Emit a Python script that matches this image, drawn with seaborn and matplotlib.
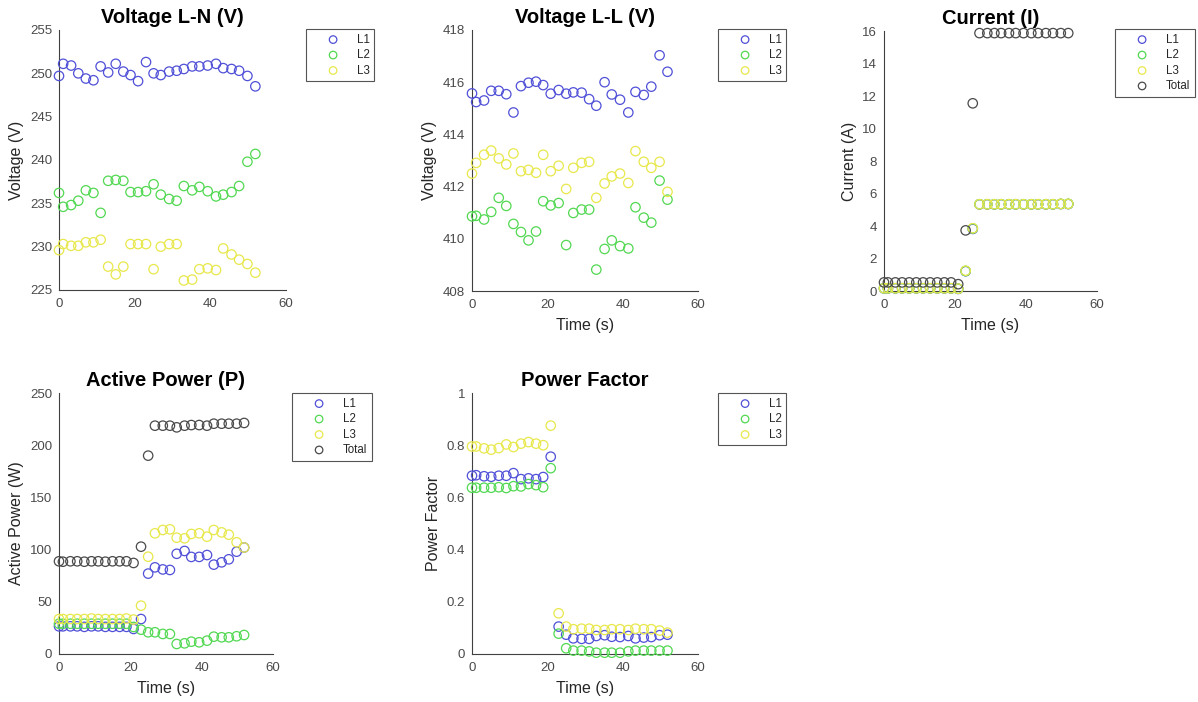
import pandas as pd
import seaborn as sns
import matplotlib.pyplot as plt

# ==================== Data ====================

TIME = [0, 1.1, 3.2, 5.1, 7.1, 9.1, 11.0, 13.0, 15.0, 17.0, 18.9, 20.9, 23.0, 25.0,
        26.9, 29.1, 31.1, 33.0, 35.2, 37.1, 39.3, 41.5, 43.4, 45.6, 47.6, 49.8, 51.9]

# Voltage L-N (V)
VLN_L1 = [249.7, 251.1, 250.9, 250.0, 249.4, 249.2, 250.8, 250.1, 251.1, 250.2, 249.8, 249.1, 251.3, 250.0,
          249.8, 250.2, 250.3, 250.5, 250.8, 250.8, 250.9, 251.1, 250.6, 250.5, 250.3, 249.7, 248.5]
VLN_L2 = [236.2, 234.6, 234.8, 235.3, 236.5, 236.2, 233.9, 237.6, 237.7, 237.6, 236.3, 236.3, 236.4, 237.2,
          236.0, 235.5, 235.3, 237.0, 236.5, 236.9, 236.4, 235.8, 236.0, 236.3, 237.0, 239.8, 240.7]
VLN_L3 = [229.6, 230.3, 230.1, 230.1, 230.5, 230.5, 230.8, 227.7, 226.8, 227.7, 230.3, 230.3, 230.3, 227.4,
          230.0, 230.3, 230.3, 226.1, 226.2, 227.4, 227.5, 227.3, 229.8, 229.1, 228.5, 228.0, 227.0]

# Voltage L-L (V)
VLL_L1 = [415.57, 415.24, 415.30, 415.67, 415.67, 415.54, 414.84, 415.85, 415.98, 416.02, 415.89, 415.56, 415.70,
          415.56, 415.61, 415.60, 415.35, 415.10, 416.00, 415.53, 415.33, 414.84, 415.63, 415.51, 415.83, 417.03, 416.40]
VLL_L2 = [410.86, 410.88, 410.74, 411.03, 411.57, 411.26, 410.57, 410.26, 409.94, 410.28, 411.44, 411.28, 411.37,
          409.76, 410.99, 411.12, 411.12, 408.82, 409.61, 409.94, 409.72, 409.63, 411.21, 410.81, 410.62, 412.23, 411.50]
VLL_L3 = [412.50, 412.91, 413.22, 413.38, 413.08, 412.85, 413.27, 412.59, 412.64, 412.53, 413.22, 412.59, 412.80,
          411.91, 412.72, 412.91, 412.95, 411.57, 412.12, 412.39, 412.50, 412.14, 413.36, 412.95, 412.72, 412.95, 411.80]

# Current (A)
I_L1 = [0.16, 0.16, 0.16, 0.16, 0.16, 0.16, 0.16, 0.16, 0.16, 0.16, 0.16, 0.13, 1.22, 3.82,
        5.33, 5.33, 5.33, 5.33, 5.33, 5.33, 5.33, 5.33, 5.33, 5.33, 5.33, 5.35, 5.35]
I_L2 = [0.17, 0.17, 0.17, 0.17, 0.17, 0.17, 0.17, 0.17, 0.17, 0.17, 0.17, 0.14, 1.23, 3.85,
        5.34, 5.34, 5.34, 5.34, 5.34, 5.34, 5.34, 5.34, 5.34, 5.34, 5.34, 5.36, 5.36]
I_L3 = [0.17, 0.17, 0.17, 0.17, 0.17, 0.17, 0.17, 0.17, 0.17, 0.17, 0.17, 0.14, 1.25, 3.86,
        5.34, 5.34, 5.34, 5.34, 5.34, 5.34, 5.34, 5.34, 5.34, 5.34, 5.34, 5.36, 5.36]
I_TOT = [0.53, 0.53, 0.53, 0.53, 0.53, 0.53, 0.53, 0.53, 0.53, 0.53, 0.53, 0.42, 3.73, 11.55,
         15.87, 15.87, 15.87, 15.87, 15.87, 15.87, 15.87, 15.87, 15.87, 15.87, 15.87, 15.87, 15.87]

# Active Power (W)
P_L1 = [26.5, 26.5, 26.5, 26.5, 26.0, 26.5, 26.5, 26.0, 26.0, 26.0, 26.0, 24.0, 33.5, 77.0,
        83.0, 81.0, 80.5, 96.0, 98.7, 93.0, 93.0, 94.8, 85.6, 87.8, 90.7, 98.0, 102.0]
P_L2 = [29.0, 29.0, 29.0, 29.0, 29.0, 29.0, 29.0, 29.0, 29.0, 29.0, 29.0, 25.9, 23.3, 20.8,
        20.8, 19.2, 19.2, 9.6, 10.2, 11.8, 11.2, 12.8, 16.6, 16.0, 16.0, 17.0, 18.2]
P_L3 = [33.5, 33.5, 33.5, 33.5, 33.5, 34.0, 33.5, 33.5, 33.5, 33.5, 34.0, 33.0, 46.3, 93.2,
        115.6, 118.8, 119.4, 111.4, 110.8, 115.0, 115.6, 112.4, 118.8, 116.5, 114.3, 107.0, 102.0]
P_TOT = [88.8, 88.4, 88.8, 88.8, 88.4, 88.8, 88.8, 88.4, 88.8, 88.8, 88.8, 87.2, 102.8, 190.0,
         218.7, 218.7, 218.7, 217.1, 218.7, 219.3, 219.3, 218.7, 220.6, 220.6, 220.6, 220.6, 221.3]

# Power Factor
PF_L1 = [0.683, 0.685, 0.681, 0.679, 0.683, 0.683, 0.693, 0.670, 0.673, 0.670, 0.678, 0.756, 0.105, 0.074,
         0.060, 0.058, 0.058, 0.069, 0.072, 0.066, 0.065, 0.069, 0.060, 0.063, 0.065, 0.072, 0.074]
PF_L2 = [0.637, 0.637, 0.637, 0.637, 0.639, 0.636, 0.643, 0.642, 0.651, 0.647, 0.639, 0.712, 0.078, 0.022,
         0.013, 0.013, 0.010, 0.005, 0.005, 0.005, 0.005, 0.010, 0.013, 0.013, 0.013, 0.013, 0.013]
PF_L3 = [0.795, 0.795, 0.788, 0.783, 0.789, 0.803, 0.793, 0.806, 0.812, 0.806, 0.800, 0.875, 0.156, 0.105,
         0.095, 0.097, 0.097, 0.092, 0.092, 0.095, 0.095, 0.092, 0.097, 0.095, 0.095, 0.090, 0.082]

COLORS = {'L1': '#5050d8', 'L2': '#52d852', 'L3': '#e8e84c', 'Total': '#4a4a4a'}

# ========================================================

sns.set_theme(style='white')
plt.rcParams['font.family'] = ['Liberation Sans', 'DejaVu Sans']

W, H = 1198, 702
AX_COLOR = '#404040'


def to_long(series):
    frames = []
    for name, vals in series.items():
        frames.append(pd.DataFrame({'Time': TIME, 'Value': vals, 'Phase': name}))
    return pd.concat(frames, ignore_index=True)


def draw_panel(fig, box, series, title, ylabel, ylim, yticks, legend_xy, xlabel=True, yticklabels=None):
    """box = (left, top, right, bottom) in pixels; legend_xy = top-left of legend in pixels"""
    l, t, r, b = box
    ax = fig.add_axes([l / W, 1 - b / H, (r - l) / W, (b - t) / H])
    df = to_long(series)
    for name in series:
        sub = df[df['Phase'] == name]
        sns.scatterplot(data=sub, x='Time', y='Value', ax=ax, marker='o', s=46,
                        color=COLORS[name], facecolor='none', edgecolor=COLORS[name],
                        linewidth=0.9, label=name, clip_on=False, zorder=3)

    ax.set_xlim(0, 60)
    ax.set_xticks([0, 20, 40, 60])
    ax.set_ylim(*ylim)
    ax.set_yticks(yticks)
    if yticklabels is not None:
        ax.set_yticklabels(yticklabels)

    for side in ['top', 'right']:
        ax.spines[side].set_visible(False)
    for side in ['left', 'bottom']:
        ax.spines[side].set_color(AX_COLOR)
        ax.spines[side].set_linewidth(0.8)
    ax.tick_params(direction='in', length=4, width=0.8, color=AX_COLOR,
                   labelsize=9.5, labelcolor='#4a4a4a')
    ax.tick_params(axis='x', pad=6)
    ax.tick_params(axis='y', pad=5)

    ax.set_title(title, fontsize=14.5, fontweight='bold', pad=5, color='black')
    ax.set_ylabel(ylabel, fontsize=11.5, color='#262626', labelpad=4)
    ax.set_xlabel('Time (s)' if xlabel else '', fontsize=11.5, color='#262626', labelpad=5)

    ax.legend(loc='upper left', bbox_to_anchor=(legend_xy[0] / W, 1 - legend_xy[1] / H),
              bbox_transform=fig.transFigure, borderaxespad=0, frameon=True, fancybox=False,
              edgecolor='#555555', framealpha=1, fontsize=8.3, handlelength=3.9,
              handletextpad=0.1, borderpad=0.4, labelspacing=0.3, markerscale=0.8,
              labelcolor='#262626')
    ax.get_legend().get_frame().set_linewidth(0.8)
    return ax


fig = plt.figure(figsize=(W / 100, H / 100), dpi=100)

draw_panel(fig, (59, 30, 286, 290),
           {'L1': VLN_L1, 'L2': VLN_L2, 'L3': VLN_L3},
           'Voltage L-N (V)', 'Voltage (V)', (225, 255), [225, 230, 235, 240, 245, 250, 255],
           (306, 29), xlabel=False)

draw_panel(fig, (472, 30, 698, 291),
           {'L1': VLL_L1, 'L2': VLL_L2, 'L3': VLL_L3},
           'Voltage L-L (V)', 'Voltage (V)', (408, 418), [408, 410, 412, 414, 416, 418],
           (718, 29))

draw_panel(fig, (884, 31, 1097, 291),
           {'L1': I_L1, 'L2': I_L2, 'L3': I_L3, 'Total': I_TOT},
           'Current (I)', 'Current (A)', (0, 16), [0, 2, 4, 6, 8, 10, 12, 14, 16],
           (1115, 29))

draw_panel(fig, (59, 393, 273, 654),
           {'L1': P_L1, 'L2': P_L2, 'L3': P_L3, 'Total': P_TOT},
           'Active Power (P)', 'Active Power (W)', (0, 250), [0, 50, 100, 150, 200, 250],
           (292, 393))

draw_panel(fig, (472, 393, 698, 654),
           {'L1': PF_L1, 'L2': PF_L2, 'L3': PF_L3},
           'Power Factor', 'Power Factor', (0, 1), [0, 0.2, 0.4, 0.6, 0.8, 1.0],
           (718, 393), yticklabels=['0', '0.2', '0.4', '0.6', '0.8', '1'])

fig.savefig('out.png', dpi=100, facecolor='white')
plt.close(fig)
